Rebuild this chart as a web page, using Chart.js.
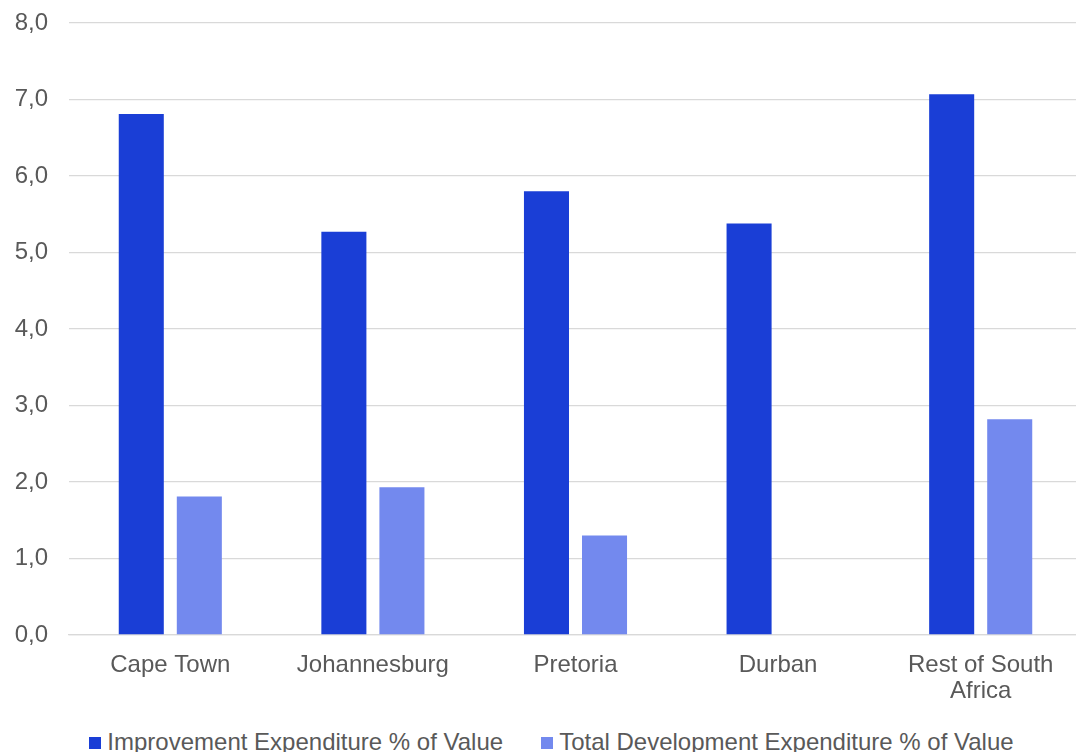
<!DOCTYPE html>
<html>
<head>
<meta charset="utf-8">
<script src="https://cdn.jsdelivr.net/npm/chart.js@4"></script>
<style>
  html, body { margin: 0; padding: 0; background: #fff; overflow: hidden; }
  #wrap { position: relative; width: 1076px; height: 752px; overflow: hidden; }
  #chart-box { position: absolute; left: 0; top: 0; width: 1082px; height: 727px; }
  #legend {
    position: absolute; left: 21px; top: 728px; width: 1061px;
    display: flex; justify-content: center; gap: 38px;
    font-family: "Liberation Sans", Arial, sans-serif; font-size: 24px; color: #595959;
    white-space: nowrap; line-height: 28px;
  }
  #legend .item { display: flex; align-items: center; }
  #legend .box { width: 12px; height: 12px; margin-right: 6px; margin-top: 2px; }
</style>
</head>
<body>
<div id="wrap">
  <div id="chart-box"><canvas id="c"></canvas></div>
  <div id="legend"></div>
</div>
<script>
// Expenditure as a percentage of property value, by region
const categories = ['Cape Town', 'Johannesburg', 'Pretoria', 'Durban', ['Rest of South', 'Africa']];
const seriesNames = ['Improvement Expenditure % of Value', 'Total Development Expenditure % of Value'];
const improvement = [6.81, 5.27, 5.80, 5.38, 7.07];
const totalDevelopment = [1.81, 1.93, 1.30, null, 2.82];
const seriesColors = ['#1A3ED6', '#7389EE'];
const yTicks = [0, 1, 2, 3, 4, 5, 6, 7, 8];

const textColor = '#595959';
const gridColor = '#D9D9D9';
const fontFamily = '"Liberation Sans", Arial, sans-serif';

new Chart(document.getElementById('c'), {
  type: 'bar',
  data: {
    labels: categories,
    datasets: [
      { label: seriesNames[0], data: improvement, backgroundColor: seriesColors[0] },
      { label: seriesNames[1], data: totalDevelopment, backgroundColor: seriesColors[1] }
    ]
  },
  options: {
    responsive: true,
    maintainAspectRatio: false,
    animation: false,
    categoryPercentage: 0.573,
    barPercentage: 0.776,
    layout: { padding: { top: 23, right: 0, bottom: 6, left: 0 } },
    plugins: {
      legend: { display: false },
      tooltip: { enabled: false }
    },
    scales: {
      x: {
        grid: { display: false, drawTicks: false },
        border: { display: true, color: gridColor, width: 1.3 },
        ticks: {
          color: textColor,
          padding: 17,
          maxRotation: 0,
          autoSkip: false,
          font: { family: fontFamily, size: 24, lineHeight: 1.083 }
        }
      },
      y: {
        min: 0,
        max: 8,
        afterBuildTicks: s => { s.ticks = yTicks.map(v => ({ value: v })); },
        afterFit: s => { s.width = 69; s.paddingTop = 0; s.paddingBottom = 0; },
        grid: { color: gridColor, lineWidth: 1.3, drawTicks: false },
        border: { display: false },
        ticks: {
          color: textColor,
          padding: 21,
          font: { family: fontFamily, size: 24 },
          callback: v => v.toFixed(1).replace('.', ',')
        }
      }
    }
  }
});

// Legend row under the chart
const legend = document.getElementById('legend');
seriesNames.forEach((name, i) => {
  const item = document.createElement('div');
  item.className = 'item';
  const box = document.createElement('span');
  box.className = 'box';
  box.style.background = seriesColors[i];
  const txt = document.createElement('span');
  txt.textContent = name;
  item.appendChild(box);
  item.appendChild(txt);
  legend.appendChild(item);
});
</script>
</body>
</html>
